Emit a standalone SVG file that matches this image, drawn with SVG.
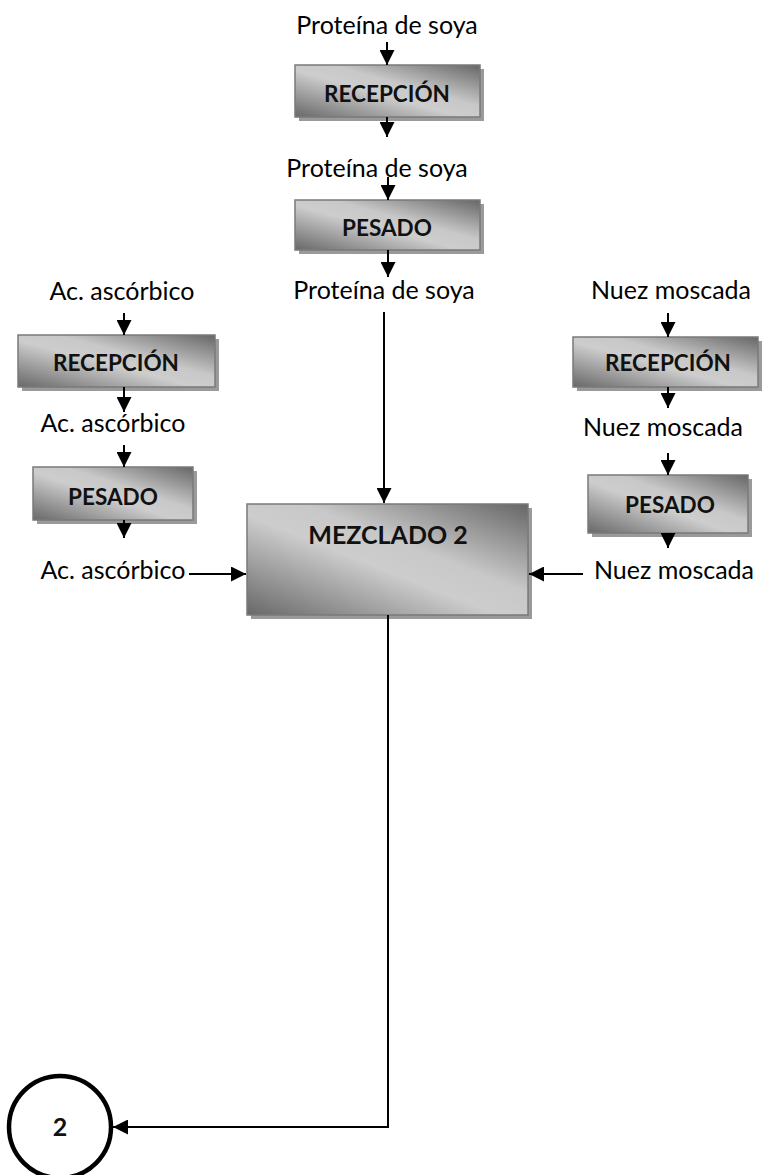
<svg xmlns="http://www.w3.org/2000/svg" width="763" height="1175" viewBox="0 0 763 1175">
  <style>
    .lbl { font-family: Lato, "Liberation Sans", sans-serif; font-size: 25px; fill: #000; text-anchor: middle; }
    .box { fill: url(#steel); stroke: #7a7a7a; stroke-width: 1.5; }
    .shadow { fill: #9a9a9a; }
    .title { font-family: Lato, "Liberation Sans", sans-serif; font-weight: bold; font-size: 22.5px; fill: #111; text-anchor: middle; }
    .big { font-size: 25px; }
    .wire { stroke: #000; stroke-width: 2; fill: none; marker-end: url(#head); }
  </style>
  <defs>
    <linearGradient id="steel" x1="0" y1="1" x2="1" y2="0">
      <stop offset="0" stop-color="#686868"/>
      <stop offset="0.45" stop-color="#cdcdcd"/>
      <stop offset="0.6" stop-color="#c8c8c8"/>
      <stop offset="1" stop-color="#666666"/>
    </linearGradient>
    <marker id="head" viewBox="0 0 10 10" refX="10" refY="5" markerWidth="7.5" markerHeight="7.5" markerUnits="strokeWidth" orient="auto">
      <path d="M0,0 L10,5 L0,10 Z" fill="#000"/>
    </marker>
  </defs>

  <!-- centre column: soy protein -->
  <g id="lbl-soya-1"><text class="lbl" x="387" y="34">Proteína de soya</text></g>
  <g id="recepcion-soya">
    <rect class="shadow" x="299" y="69" width="185" height="52"/>
    <rect class="box" x="295" y="65" width="185" height="52"/>
    <text class="title" x="387" y="102">RECEPCIÓN</text>
  </g>
  <g id="lbl-soya-2"><text class="lbl" x="377" y="177">Proteína de soya</text></g>
  <g id="pesado-soya">
    <rect class="shadow" x="299" y="204" width="185" height="50"/>
    <rect class="box" x="295" y="200" width="185" height="50"/>
    <text class="title" x="387" y="236">PESADO</text>
  </g>
  <g id="lbl-soya-3"><text class="lbl" x="384" y="299">Proteína de soya</text></g>

  <!-- left column: ascorbic acid -->
  <g id="lbl-asc-1"><text class="lbl" x="122" y="300">Ac. ascórbico</text></g>
  <g id="recepcion-asc">
    <rect class="shadow" x="22" y="339" width="197" height="52"/>
    <rect class="box" x="18" y="335" width="197" height="52"/>
    <text class="title" x="116" y="371">RECEPCIÓN</text>
  </g>
  <g id="lbl-asc-2"><text class="lbl" x="113" y="432">Ac. ascórbico</text></g>
  <g id="pesado-asc">
    <rect class="shadow" x="37" y="471" width="160" height="53"/>
    <rect class="box" x="33" y="467" width="160" height="53"/>
    <text class="title" x="113" y="505">PESADO</text>
  </g>
  <g id="lbl-asc-3"><text class="lbl" x="113" y="579">Ac. ascórbico</text></g>

  <!-- right column: nutmeg -->
  <g id="lbl-nuez-1"><text class="lbl" x="671" y="299">Nuez moscada</text></g>
  <g id="recepcion-nuez">
    <rect class="shadow" x="577" y="341" width="185" height="50"/>
    <rect class="box" x="573" y="337" width="185" height="50"/>
    <text class="title" x="668" y="371">RECEPCIÓN</text>
  </g>
  <g id="lbl-nuez-2"><text class="lbl" x="663" y="436">Nuez moscada</text></g>
  <g id="pesado-nuez">
    <rect class="shadow" x="592" y="479" width="160" height="58"/>
    <rect class="box" x="588" y="475" width="160" height="58"/>
    <text class="title" x="670" y="513">PESADO</text>
  </g>
  <g id="lbl-nuez-3"><text class="lbl" x="674" y="579">Nuez moscada</text></g>

  <!-- mixing step -->
  <g id="mezclado-2">
    <rect class="shadow" x="251" y="508" width="281" height="111"/>
    <rect class="box" x="247" y="504" width="281" height="111"/>
    <text class="title big" x="388" y="544">MEZCLADO 2</text>
  </g>

  <!-- off-page connector -->
  <g id="conector-2">
    <circle cx="60" cy="1127" r="51" fill="#fff" stroke="#000" stroke-width="4.5"/>
    <text class="title big" x="60" y="1136" fill="#000">2</text>
  </g>

  <g id="connectors">
    <line class="wire" x1="387" y1="42" x2="387" y2="65"/>
    <line class="wire" x1="387" y1="117" x2="387" y2="137"/>
    <line class="wire" x1="388" y1="177" x2="388" y2="200"/>
    <line class="wire" x1="388" y1="250" x2="388" y2="277"/>
    <line class="wire" x1="384" y1="312" x2="384" y2="503"/>

    <line class="wire" x1="124" y1="313" x2="124" y2="335"/>
    <line class="wire" x1="124" y1="387" x2="124" y2="412"/>
    <line class="wire" x1="124" y1="445" x2="124" y2="467"/>
    <line class="wire" x1="124" y1="520" x2="124" y2="538"/>
    <line class="wire" x1="189" y1="574" x2="246" y2="574"/>

    <line class="wire" x1="668" y1="313" x2="668" y2="337"/>
    <line class="wire" x1="668" y1="387" x2="668" y2="408"/>
    <line class="wire" x1="668" y1="453" x2="668" y2="475"/>
    <line class="wire" x1="668" y1="533" x2="668" y2="548"/>
    <line class="wire" x1="583" y1="574" x2="529" y2="574"/>

    <polyline class="wire" points="388,615 388,1127 113,1127"/>
  </g>
</svg>
